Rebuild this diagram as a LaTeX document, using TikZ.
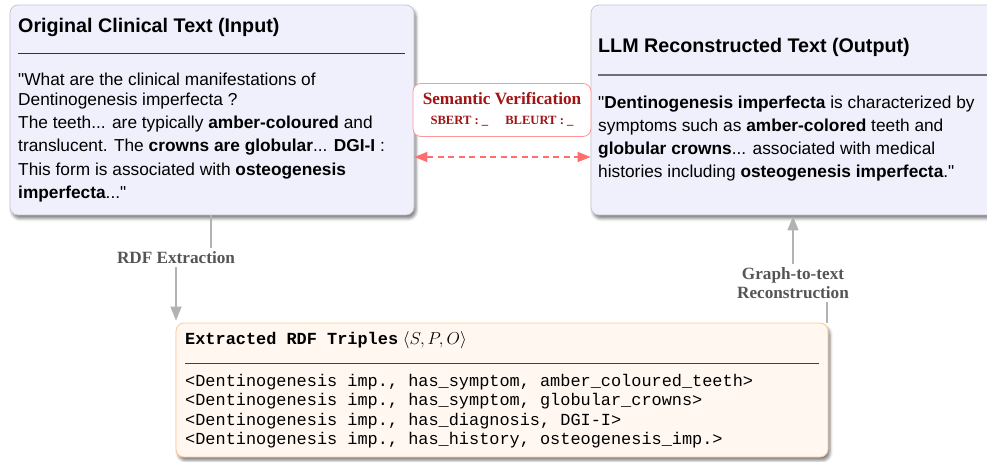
\documentclass[tikz,border=0pt]{standalone}
\usepackage{fontspec}
\setmainfont{Liberation Sans}
\newfontfamily\serifb{Liberation Serif}
\newfontfamily\monof{Liberation Mono}
\usetikzlibrary{arrows.meta,shadows.blur}
\definecolor{panelfill}{RGB}{240,240,252}
\definecolor{panelborder}{RGB}{200,200,212}
\definecolor{triplefill}{RGB}{255,247,240}
\definecolor{tripleborder}{RGB}{255,200,150}
\definecolor{semborder}{RGB}{255,150,150}
\definecolor{semtext}{RGB}{160,20,20}
\definecolor{dashred}{RGB}{255,110,110}
\definecolor{conngray}{RGB}{178,178,178}
\definecolor{lblgray}{RGB}{85,85,85}
\definecolor{rulegray}{RGB}{110,110,125}
\newcommand{\dq}{\textquotedbl}
\begin{document}
\begin{tikzpicture}[x=1pt,y=-1pt,
  panel/.style={draw=panelborder, line width=0.8pt, fill=panelfill, rounded corners=8pt,
    inner sep=0pt, blur shadow={shadow xshift=2pt, shadow yshift=-3.5pt, shadow blur radius=3pt, shadow opacity=50}},
  triplebox/.style={draw=tripleborder, line width=0.8pt, fill=triplefill, rounded corners=8pt,
    inner sep=0pt, blur shadow={shadow xshift=2pt, shadow yshift=-3.5pt, shadow blur radius=3pt, shadow opacity=50}},
  sembox/.style={draw=semborder, line width=0.8pt, fill=white, rounded corners=8pt, inner sep=0pt},
  txt/.style={anchor=base west, inner sep=0pt, font=\fontsize{17.3}{23}\selectfont},
  ttl/.style={anchor=base west, inner sep=0pt, font=\fontsize{19.7}{23}\selectfont\bfseries},
  mono/.style={anchor=base west, inner sep=0pt, font=\monof\fontsize{16.9}{19}\selectfont},
  lbl/.style={font=\serifb\bfseries\fontsize{17.2}{19}\selectfont, text=lblgray, align=center, inner sep=3pt},
  conn/.style={draw=conngray, line width=1.6pt},
  conntip/.style={-{Triangle[length=14pt,width=11pt]}},
]
\useasboundingbox (0,0) rectangle (987,462);

% boxes
\node[panel, minimum width=404pt, minimum height=210pt] (left) at (212,110) {};
\node[panel, minimum width=420pt, minimum height=210pt] (right) at (801,110) {};
\node[triplebox, minimum width=652pt, minimum height=134pt] (triples) at (502,390) {};
\node[sembox, minimum width=178pt, minimum height=53pt] (sem) at (502,110) {};

% left box text
\node[ttl] (ltitle) at (18,33) {Original Clinical Text (Input)};
\draw[line width=1pt, black!80] (18,54) -- (405,54);
\node[txt] (l1) at (18,86) {\dq What are the clinical manifestations of};
\node[txt] (l2) at (18,106) {Dentinogenesis imperfecta ?};
\node[txt] (l3) at (18,129) {The teeth... are typically \textbf{amber-coloured} and};
\node[txt] (l4) at (18,152) {translucent. The \textbf{crowns are globular}... \textbf{DGI-I} :};
\node[txt] (l5) at (18,176) {This form is associated with \textbf{osteogenesis}};
\node[txt] (l6) at (18,199) {\textbf{imperfecta}...\dq};

% right box text
\node[ttl] (rtitle) at (598,53) {LLM Reconstructed Text (Output)};
\draw[line width=1.2pt, rulegray] (598,75) -- (995,75);
\node[txt] (r1) at (598,109) {\dq\textbf{Dentinogenesis imperfecta} is characterized by};
\node[txt] (r2) at (598,132) {symptoms such as \textbf{amber-colored} teeth and};
\node[txt] (r3) at (598,155) {\textbf{globular crowns}... associated with medical};
\node[txt] (r4) at (598,178) {histories including \textbf{osteogenesis imperfecta}.\dq};

% semantic verification
\node[anchor=base, inner sep=0pt, text=semtext, font=\serifb\bfseries\fontsize{17.2}{19}\selectfont] (semt) at (502,105) {Semantic Verification};
\node[anchor=base, inner sep=0pt, text=semtext, font=\serifb\bfseries\fontsize{12.6}{14}\selectfont] (semm) at (502,125) {SBERT : \_\hspace{17pt}BLEURT : \_};
\coordinate (dashy) at (502,157);
\draw[dashred, line width=1.6pt, dash pattern=on 6pt off 4.5pt,
  {Triangle[length=13pt,width=10pt]}-{Triangle[length=13pt,width=10pt]}]
  (dashy -| left.east) -- (dashy -| right.west);

% triples text
\node[anchor=base west, inner sep=0pt, font=\fontsize{16.9}{19}\selectfont] (ttitle) at (185,344)
  {{\monof\bfseries Extracted RDF Triples} $\langle S, P, O\rangle$};
\draw[line width=1pt, black!75] (185,363) -- (819,363);
\node[mono] (t1) at (185,386) {<Dentinogenesis imp., has\_symptom, amber\_coloured\_teeth>};
\node[mono] (t2) at (185,405.5) {<Dentinogenesis imp., has\_symptom, globular\_crowns>};
\node[mono] (t3) at (185,425) {<Dentinogenesis imp., has\_diagnosis, DGI-I>};
\node[mono] (t4) at (185,444) {<Dentinogenesis imp., has\_history, osteogenesis\_imp.>};

% RDF extraction connector
\node[lbl] (rdf) at (176,257.5) {RDF Extraction};
\coordinate (lc) at (211,0);
\draw[conn] (left.south -| lc) -- (rdf.north -| lc);
\draw[conn, conntip] (rdf.south) -- ([yshift=2pt]rdf.south |- triples.north);

% graph-to-text connector
\node[lbl] (g2t) at (793,283) {Graph-to-text\\Reconstruction};
\coordinate (rc) at (827,0);
\draw[conn] (triples.north -| rc) -- (g2t.south -| rc);
\draw[conn, conntip] (g2t.north) -- ([yshift=-1pt]g2t.north |- right.south);
\end{tikzpicture}
\end{document}
